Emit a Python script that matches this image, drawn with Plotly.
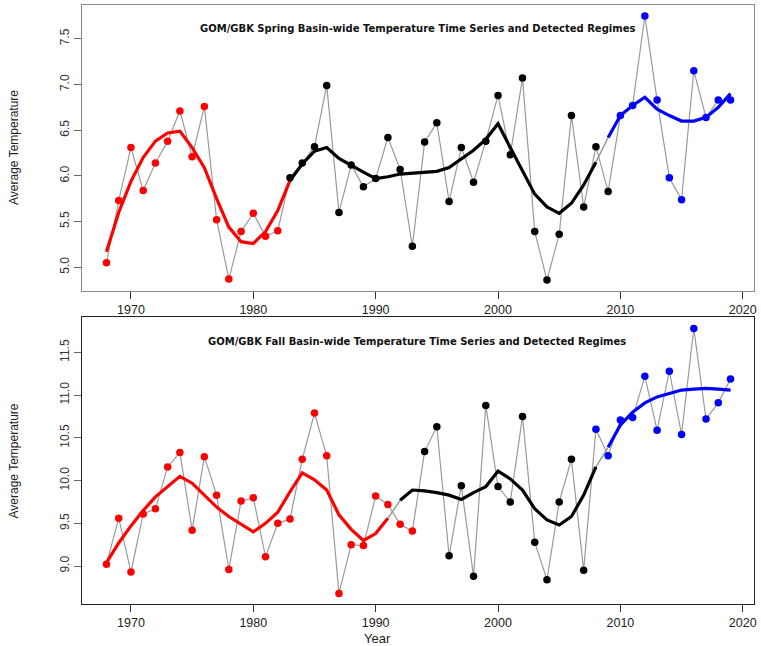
import plotly.graph_objects as go

# Survey years
years = list(range(1968, 2020))

# GOM/GBK spring basin-wide average temperature
spring_temp = [5.05, 5.73, 6.31, 5.84, 6.14, 6.38, 6.71, 6.21, 6.76, 5.52,
               4.87, 5.39, 5.59, 5.34, 5.40, 5.98, 6.14, 6.32, 6.99, 5.60,
               6.12, 5.88, 5.97, 6.42, 6.07, 5.23, 6.37, 6.58, 5.72, 6.31,
               5.93, 6.38, 6.88, 6.23, 7.07, 5.39, 4.86, 5.36, 6.66, 5.66,
               6.32, 5.83, 6.66, 6.77, 7.75, 6.83, 5.98, 5.74, 7.15, 6.64,
               6.83, 6.83]
spring_smooth = [5.17, 5.60, 5.94, 6.20, 6.38, 6.47, 6.49, 6.31, 6.09, 5.75,
                 5.44, 5.28, 5.26, 5.39, 5.62, 5.95, 6.13, 6.27, 6.31, 6.19,
                 6.11, 6.04, 5.97, 5.99, 6.02, 6.03, 6.04, 6.05, 6.09, 6.18,
                 6.28, 6.40, 6.57, 6.31, 6.06, 5.80, 5.66, 5.59, 5.70, 5.90,
                 6.15, 6.42, 6.66, 6.77, 6.86, 6.73, 6.66, 6.60, 6.60, 6.64,
                 6.75, 6.90]

# GOM/GBK fall basin-wide average temperature
fall_temp = [9.02, 9.56, 8.93, 9.61, 9.67, 10.16, 10.33, 9.42, 10.28, 9.83,
             8.96, 9.76, 9.80, 9.11, 9.50, 9.55, 10.25, 10.79, 10.29, 8.68,
             9.25, 9.24, 9.82, 9.72, 9.49, 9.41, 10.34, 10.63, 9.12, 9.94,
             8.88, 10.88, 9.93, 9.75, 10.75, 9.28, 8.84, 9.75, 10.25, 8.95,
             10.60, 10.29, 10.71, 10.74, 11.22, 10.59, 11.28, 10.54, 11.78, 10.72,
             10.91, 11.19]
fall_smooth = [9.04, 9.27, 9.47, 9.65, 9.81, 9.93, 10.05, 9.97, 9.83, 9.69,
               9.58, 9.49, 9.40, 9.50, 9.63, 9.87, 10.09, 10.01, 9.89, 9.60,
               9.43, 9.30, 9.38, 9.56, 9.77, 9.89, 9.88, 9.86, 9.83, 9.78,
               9.86, 9.93, 10.11, 10.02, 9.89, 9.67, 9.54, 9.48, 9.58, 9.83,
               10.16, 10.39, 10.65, 10.80, 10.91, 10.98, 11.02, 11.06, 11.07, 11.08,
               11.07, 11.06]

regime_colors = ["#FF0000", "#000000", "#0000FF"]
# First year of each detected regime (points)
spring_regime_starts = [1968, 1983, 2010]
fall_regime_starts = [1968, 1994, 2008]
# Year spans of the regime-coloured smooth curve
spring_smooth_spans = [(1968, 1983), (1983, 2008), (2009, 2019)]
fall_smooth_spans = [(1968, 1991), (1992, 2008), (2009, 2019)]

titles = ["GOM/GBK Spring Basin-wide Temperature Time Series and Detected Regimes",
          "GOM/GBK Fall Basin-wide Temperature Time Series and Detected Regimes"]
spring_ticks = [5.0, 5.5, 6.0, 6.5, 7.0, 7.5]
fall_ticks = [9.0, 9.5, 10.0, 10.5, 11.0, 11.5]
year_ticks = [1970, 1980, 1990, 2000, 2010, 2020]


def regime_of(year, starts):
    idx = 0
    for i, s in enumerate(starts):
        if year >= s:
            idx = i
    return idx


fig = go.Figure()


def add_panel(temp, smooth, starts, spans, xa, ya):
    # grey line joining the annual values
    fig.add_trace(go.Scatter(x=years, y=temp, mode="lines", xaxis=xa, yaxis=ya,
                             line=dict(color="#9a9a9a", width=1.2),
                             hoverinfo="skip", showlegend=False))
    # thin grey smooth under the regime colours
    fig.add_trace(go.Scatter(x=years, y=smooth, mode="lines", xaxis=xa, yaxis=ya,
                             line=dict(color="#9a9a9a", width=1.5),
                             hoverinfo="skip", showlegend=False))
    for (a, b), col in zip(spans, regime_colors):
        xs = [y for y in years if a <= y <= b]
        ys = [smooth[years.index(y)] for y in xs]
        fig.add_trace(go.Scatter(x=xs, y=ys, mode="lines", xaxis=xa, yaxis=ya,
                                 line=dict(color=col, width=3.2),
                                 hoverinfo="skip", showlegend=False))
    cols = [regime_colors[regime_of(y, starts)] for y in years]
    fig.add_trace(go.Scatter(x=years, y=temp, mode="markers", xaxis=xa, yaxis=ya,
                             marker=dict(color=cols, size=7.5, line=dict(width=0)),
                             showlegend=False))


add_panel(spring_temp, spring_smooth, spring_regime_starts, spring_smooth_spans, "x", "y")
add_panel(fall_temp, fall_smooth, fall_regime_starts, fall_smooth_spans, "x2", "y2")

tick_font = dict(family="Liberation Sans, Arial, sans-serif", size=12.5, color="#222")
ytick_font = dict(family="Liberation Sans Narrow, Liberation Sans, Arial, sans-serif",
                  size=12, color="#333")


def xaxis_cfg(linecol):
    return dict(range=[1966.0, 2020.92], tickmode="array", tickvals=year_ticks,
                ticktext=[str(v) for v in year_ticks], ticks="outside", ticklen=7,
                tickcolor="#333", showline=True, mirror=True, linecolor=linecol,
                linewidth=1, showgrid=False, zeroline=False, tickfont=tick_font)


def yaxis_cfg(rng, ticks, dom, linecol):
    return dict(range=rng, domain=dom, tickmode="array", tickvals=ticks,
                ticktext=[f"{v:.1f}" for v in ticks], ticks="outside", ticklen=7,
                tickcolor="#666", tickangle=-90, showline=True, mirror=True,
                linecolor=linecol, linewidth=1, showgrid=False, zeroline=False,
                tickfont=ytick_font)


fig.update_layout(
    width=761, height=646,
    margin=dict(l=82, r=5, t=4, b=42),
    paper_bgcolor="white", plot_bgcolor="white",
    xaxis=dict(**xaxis_cfg("#8a8a8a"), anchor="y"),
    yaxis=yaxis_cfg([4.745, 7.87], spring_ticks, [0.5233, 1.0], "#8a8a8a"),
    xaxis2=dict(**xaxis_cfg("#222"), anchor="y2"),
    yaxis2=yaxis_cfg([8.556, 11.909], fall_ticks, [0.0, 0.4783], "#222"),
)

plot_w = 761 - 82 - 5
plot_h = 646 - 4 - 42


def px_to_paper_x(px):
    return (px - 82) / plot_w


def px_to_paper_y(py):
    return (646 - 42 - py) / plot_h


annots = []
for t, py in zip(titles, [28, 341]):
    annots.append(dict(text=f"<b>{t}</b>", x=px_to_paper_x(418), y=px_to_paper_y(py),
                       xref="paper", yref="paper", showarrow=False,
                       xanchor="center", yanchor="middle",
                       font=dict(family="DejaVu Sans, Liberation Sans, Arial, sans-serif",
                                 size=10, color="#111")))
for py in [147, 461]:
    annots.append(dict(text="Average Temperature", x=px_to_paper_x(14), y=px_to_paper_y(py),
                       xref="paper", yref="paper", showarrow=False, textangle=-90,
                       xanchor="center", yanchor="middle",
                       font=dict(family="Liberation Sans Narrow, Liberation Sans, Arial, sans-serif",
                                 size=12, color="#222")))
annots.append(dict(text="Year", x=px_to_paper_x(378), y=px_to_paper_y(638.5),
                   xref="paper", yref="paper", showarrow=False,
                   xanchor="center", yanchor="middle",
                   font=dict(family="Liberation Sans, Arial, sans-serif", size=13, color="#222")))
fig.update_layout(annotations=annots)

fig.write_html("out.html")
